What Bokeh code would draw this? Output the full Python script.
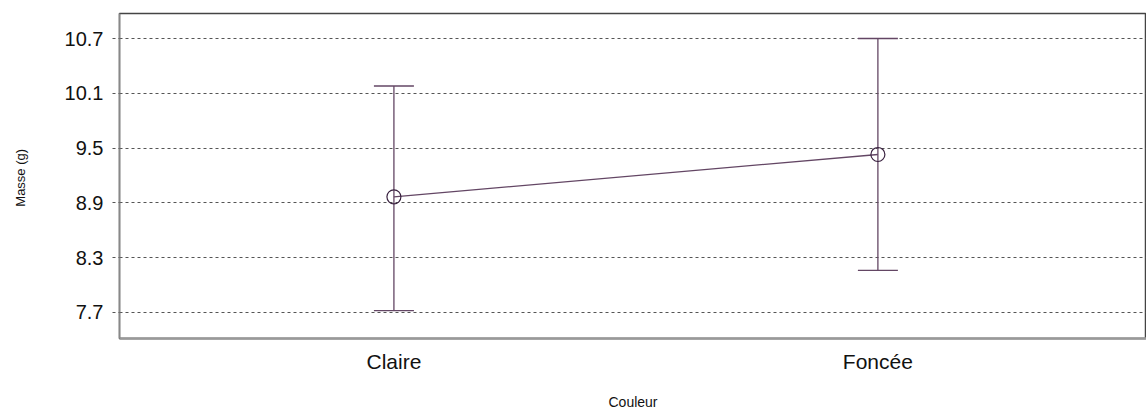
from bokeh.plotting import figure
from bokeh.models import Range1d, FixedTicker, ColumnDataSource, Whisker, TeeHead
from bokeh.embed import file_html
from bokeh.resources import INLINE

categories = ["Claire", "Foncée"]
cat_pos = [1, 2]
means = [8.966, 9.43]
upper = [10.18, 10.70]
lower = [7.72, 8.16]
y_ticks = [7.7, 8.3, 8.9, 9.5, 10.1, 10.7]

col = "#634664"
font = "Liberation Sans"

p = figure(width=1146, height=412, output_backend="svg", toolbar_location=None,
           x_range=Range1d(0.433, 2.555), y_range=Range1d(7.415, 10.974),
           min_border_left=119, min_border_right=0, min_border_top=13, min_border_bottom=74)

src = ColumnDataSource(dict(x=cat_pos, m=means, u=upper, l=lower))

p.add_layout(Whisker(source=src, base="x", upper="u", lower="l", line_color=col, line_width=1.3,
                     upper_head=TeeHead(size=40, line_color=col, line_width=1.3),
                     lower_head=TeeHead(size=40, line_color=col, line_width=1.3)))
p.line("x", "m", source=src, line_color=col, line_width=1.3)
p.scatter("x", "m", source=src, size=14, fill_color=None, line_color="#3a2240", line_width=1.2)

p.outline_line_color = "#444444"
p.outline_line_width = 1.5
p.xgrid.grid_line_color = None
p.ygrid.grid_line_color = "#555555"
p.ygrid.grid_line_dash = "3 3"
p.ygrid.grid_line_width = 1

p.yaxis.ticker = FixedTicker(ticks=y_ticks)
p.yaxis.major_label_overrides = {t: f"{t:.1f}" for t in y_ticks}
p.yaxis.major_tick_out = 7
p.yaxis.major_tick_in = 0
p.yaxis.major_tick_line_color = "#555555"
p.yaxis.major_tick_line_dash = "3 3"
p.yaxis.minor_tick_line_color = None
p.yaxis.axis_line_color = "#888888"
p.yaxis.axis_line_width = 1.5
p.yaxis.major_label_text_font = font
p.yaxis.major_label_text_font_size = "20px"
p.yaxis.major_label_text_color = "#111111"
p.yaxis.major_label_standoff = 9
p.yaxis.axis_label = "Masse  (g)"
p.yaxis.axis_label_text_font = font
p.yaxis.axis_label_text_font_size = "13px"
p.yaxis.axis_label_text_font_style = "normal"
p.yaxis.axis_label_text_color = "#111111"
p.yaxis.axis_label_standoff = 34

p.xaxis.ticker = FixedTicker(ticks=cat_pos)
p.xaxis.major_label_overrides = {c: n for c, n in zip(cat_pos, categories)}
p.xaxis.major_tick_line_color = None
p.xaxis.minor_tick_line_color = None
p.xaxis.axis_line_color = "#999999"
p.xaxis.axis_line_width = 2.5
p.xaxis.major_label_text_font = font
p.xaxis.major_label_text_font_size = "21px"
p.xaxis.major_label_text_color = "#111111"
p.xaxis.major_label_standoff = 5
p.xaxis.axis_label = "Couleur"
p.xaxis.axis_label_text_font = font
p.xaxis.axis_label_text_font_size = "14px"
p.xaxis.axis_label_text_font_style = "normal"
p.xaxis.axis_label_text_color = "#111111"
p.xaxis.axis_label_standoff = 18

open("out.html", "w").write(file_html(p, INLINE))
